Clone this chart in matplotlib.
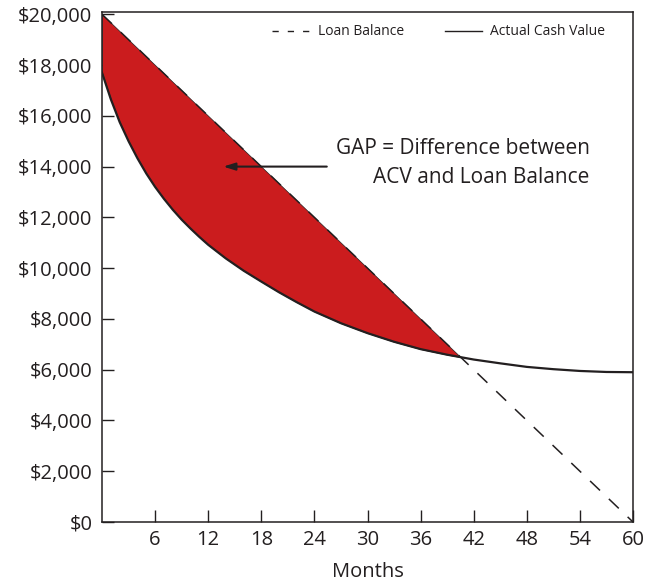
import matplotlib
matplotlib.use("Agg")
import numpy as np
import matplotlib.pyplot as plt
from matplotlib.lines import Line2D

plt.rcParams['font.family'] = ['Open Sans', 'DejaVu Sans']

# --- Data ---
months = [0, 1, 2, 3, 4, 5, 6, 7, 8, 9, 10, 11, 12, 14, 16, 18, 20, 22, 24,
          27, 30, 33, 36, 39, 42, 45, 48, 51, 54, 57, 60]
loan_balance = [20000, 19667, 19333, 19000, 18667, 18333, 18000, 17667, 17333,
                17000, 16667, 16333, 16000, 15333, 14667, 14000, 13333, 12667,
                12000, 11000, 10000, 9000, 8000, 7000, 6000, 5000, 4000, 3000,
                2000, 1000, 0]
actual_cash_value = [17700, 16650, 15750, 15000, 14330, 13730, 13200, 12730,
                     12300, 11910, 11560, 11230, 10920, 10380, 9900, 9470, 9050,
                     8660, 8290, 7830, 7440, 7100, 6810, 6590, 6400, 6250, 6110,
                     6020, 5950, 5910, 5900]

x_ticks = [6, 12, 18, 24, 30, 36, 42, 48, 54, 60]
y_ticks = [0, 2000, 4000, 6000, 8000, 10000, 12000, 14000, 16000, 18000, 20000]
y_tick_labels = ["$0", "$2,000", "$4,000", "$6,000", "$8,000", "$10,000",
                 "$12,000", "$14,000", "$16,000", "$18,000", "$20,000"]

ink = "#231f20"
gap_red = "#cb1c1e"

fig = plt.figure(figsize=(6.45, 5.84), dpi=100)
ax = fig.add_axes([102 / 645, 1 - 522 / 584, 531 / 645, 510 / 584])

m = np.array(months, dtype=float)
loan = np.array(loan_balance, dtype=float)
acv = np.array(actual_cash_value, dtype=float)

# --- GAP area ---
ax.fill_between(m, acv, loan, where=loan >= acv, interpolate=True,
                facecolor=gap_red, edgecolor=ink, linewidth=0.5, zorder=2)

ax.plot(m, acv, color=ink, linewidth=1.6, solid_joinstyle="round", zorder=3)
ax.plot(m, loan, color=ink, linewidth=1.1, linestyle=(0, (9, 8)), zorder=3)

ax.set_xlim(0, 60)
ax.set_ylim(0, 20090)
ax.set_xticks(x_ticks)
ax.set_yticks(y_ticks)
ax.set_yticklabels(y_tick_labels)
ax.tick_params(direction="in", length=8.5, width=1.0, color=ink,
               labelsize=14.5, labelcolor=ink)
ax.tick_params(axis="y", pad=7)
ax.tick_params(axis="x", pad=6)
for spine in ax.spines.values():
    spine.set_linewidth(1.1)
    spine.set_color(ink)

ax.set_xlabel("Months", fontsize=14.5, color=ink, labelpad=8.5)

# --- Annotation ---
ax.text(55.1, 14140, "GAP = Difference between\nACV and Loan Balance",
        ha="right", va="center", multialignment="right",
        fontsize=15, color=ink, linespacing=1.45, zorder=5)
ax.annotate("", xy=(13.7, 14000), xytext=(25.4, 14000),
            arrowprops=dict(arrowstyle="-|>,head_length=0.7,head_width=0.22",
                            color=ink, lw=1.5, shrinkA=0, shrinkB=0),
            zorder=5)

# --- Legend ---
handles = [Line2D([], [], color=ink, linewidth=1.0, linestyle=(0, (4.5, 6.5))),
           Line2D([], [], color=ink, linewidth=1.0)]
ax.legend(handles, ["Loan Balance", "Actual Cash Value"], ncol=2,
          loc="center right", bbox_to_anchor=(0.948, 0.961), frameon=False,
          fontsize=10, handlelength=2.7, handletextpad=0.6,
          columnspacing=2.9, borderpad=0, borderaxespad=0,
          labelcolor=ink)

fig.savefig("out.png", dpi=100)
